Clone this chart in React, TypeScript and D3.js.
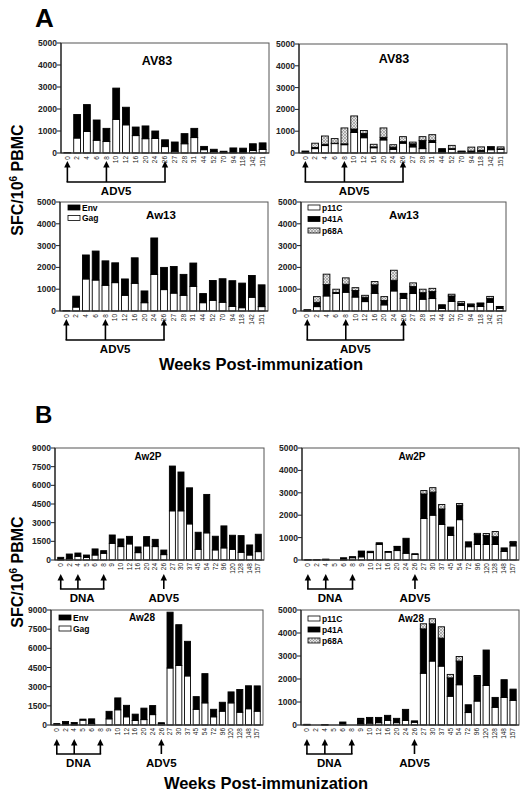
import React from "react";
import * as d3 from "d3";

const weeksA = ["0","2","4","6","8","10","12","16","20","24","26","27","28","31","44","52","70","94","118","142","151"];
const weeksB = ["0","2","4","5","6","8","9","10","12","16","20","24","26","27","30","37","45","54","72","96","120","128","148","157"];

const ticksA = [0, 1000, 2000, 3000, 4000, 5000];
const ticksB9 = [0, 1500, 3000, 4500, 6000, 7500, 9000];

// Panel A – AV83 (Env/Gag)
const av83Gag = [0, 680, 980, 580, 520, 1530, 1280, 790, 650, 660, 290, 80, 420, 700, 150, 60, 30, 20, 20, 110, 160];
const av83Env = [20, 1070, 1220, 920, 600, 1420, 800, 390, 580, 340, 310, 420, 460, 420, 150, 110, 50, 210, 200, 310, 300];
// Panel A – AV83 (peptides)
const av83P11C = [0, 200, 340, 430, 380, 940, 700, 240, 600, 170, 450, 280, 200, 480, 50, 170, 60, 40, 80, 150, 170];
const av83P41A = [90, 50, 60, 20, 40, 160, 200, 40, 120, 100, 70, 140, 380, 100, 150, 30, 10, 50, 40, 130, 20];
const av83P68A = [0, 200, 380, 210, 730, 600, 130, 120, 430, 110, 230, 80, 170, 260, 0, 150, 20, 180, 160, 10, 90];
// Panel A – Aw13 (Env/Gag)
const aw13Gag = [0, 180, 1470, 1420, 1180, 1300, 720, 1270, 380, 1680, 980, 820, 720, 1130, 380, 490, 400, 210, 150, 630, 200];
const aw13Env = [20, 500, 1100, 1330, 1120, 910, 750, 1170, 540, 1670, 1020, 1220, 960, 1070, 420, 910, 1080, 1180, 1130, 1000, 1000];
// Panel A – Aw13 (peptides)
const aw13P11C = [10, 200, 690, 810, 860, 640, 430, 810, 280, 920, 580, 800, 540, 570, 120, 440, 250, 200, 210, 400, 120];
const aw13P41A = [50, 200, 520, 40, 370, 300, 200, 390, 200, 490, 200, 320, 300, 320, 130, 250, 100, 110, 120, 170, 80];
const aw13P68A = [0, 260, 480, 150, 290, 130, 90, 150, 180, 460, 30, 170, 160, 150, 40, 80, 80, 10, 40, 100, 10];
// Panel B – Aw2P (Env/Gag)
const aw2pGag = [30, 100, 300, 200, 400, 540, 1340, 1075, 1290, 590, 1130, 1075, 430, 3950, 3950, 2900, 860, 2180, 810, 970, 860, 620, 400, 670];
const aw2pEnv = [185, 380, 260, 200, 490, 210, 670, 615, 610, 460, 750, 585, 370, 3600, 3120, 2900, 1370, 3090, 1100, 1770, 1130, 1340, 810, 1400];
// Panel B – Aw2P (peptides)
const aw2pP11C = [5, 5, 10, 0, 10, 100, 140, 330, 700, 350, 420, 300, 250, 1850, 2000, 1590, 1100, 1800, 590, 690, 690, 690, 380, 630];
const aw2pP41A = [5, 5, 30, 0, 90, 50, 220, 60, 70, 30, 170, 670, 30, 1100, 1030, 690, 370, 640, 220, 450, 400, 350, 160, 150];
const aw2pP68A = [0, 0, 0, 0, 0, 0, 40, 0, 0, 0, 20, 0, 0, 150, 200, 200, 0, 80, 0, 50, 90, 230, 0, 50];
// Panel B – Aw28 (Env/Gag)
const aw28Gag = [0, 50, 20, 380, 130, 0, 480, 1190, 640, 350, 420, 810, 100, 4460, 4660, 3840, 1230, 1730, 640, 1080, 1730, 1000, 1270, 1080];
const aw28Env = [110, 220, 180, 80, 350, 0, 590, 930, 900, 500, 900, 710, 80, 4370, 3190, 2710, 990, 2290, 590, 700, 860, 1780, 1800, 1980];
// Panel B – Aw28 (peptides)
const aw28P11C = [10, 0, 5, 0, 10, 0, 50, 80, 100, 200, 100, 200, 120, 2250, 2780, 2560, 1250, 1750, 540, 1040, 1720, 770, 1200, 1070];
const aw28P41A = [20, 0, 15, 0, 120, 0, 200, 250, 230, 220, 190, 480, 60, 1930, 1620, 1220, 800, 1030, 340, 1080, 1540, 430, 770, 490];
const aw28P68A = [0, 0, 0, 0, 0, 0, 40, 0, 0, 0, 0, 0, 0, 220, 220, 490, 150, 200, 0, 30, 0, 0, 0, 0];

const FONT = "'Liberation Sans', Arial, Helvetica, sans-serif";

type Legend = { x: number; y: number; dy: number; items: { label: string; fill: string }[] };
type PanelCfg = {
  weeks: string[];
  series: number[][];
  fills: string[];
  x0: number; x1: number; yTop: number; y0: number;
  max: number; ticks: number[];
  title: string; titleX: number; titleY: number; titleSize: number;
  legend?: Legend;
  arrows: string[];
  brackets: { from: string; to: string; label: string }[];
  singles: { at: string; label: string }[];
  tipOff: number;
};

function Panel({ p }: { p: PanelCfg }) {
  const x = d3.scaleBand<string>().domain(p.weeks).range([p.x0 + 1, p.x1 - 1]).paddingInner(0.3).paddingOuter(0.2);
  const y = d3.scaleLinear().domain([0, p.max]).range([p.y0, p.yTop]);
  const keys = p.series.map((_, i) => "k" + i);
  const rows = p.weeks.map((w, i) => {
    const o: any = { week: w };
    keys.forEach((k, j) => (o[k] = p.series[j][i]));
    return o;
  });
  const stacked = d3.stack<any>().keys(keys)(rows);
  const bw = x.bandwidth();
  const cx = (w: string) => (x(w) as number) + bw / 2;
  const tipY = p.y0 + p.tipOff;
  const brY = p.y0 + 29;
  const labY = p.y0 + 42;
  return (
    <g>
      {stacked.map((layer, li) => (
        <g key={li}>
          {layer.map((d, i) => {
            const h = y(d[0]) - y(d[1]);
            if (h <= 0.01) return null;
            return (
              <rect key={i} x={x(p.weeks[i])} y={y(d[1])} width={bw} height={h}
                fill={p.fills[li]} stroke="#000" strokeWidth={0.9} />
            );
          })}
        </g>
      ))}
      <rect x={p.x0} y={p.yTop} width={p.x1 - p.x0} height={p.y0 - p.yTop} fill="none" stroke="#555" strokeWidth={1} />
      <line x1={p.x0} x2={p.x0} y1={p.yTop} y2={p.y0} stroke="#222" strokeWidth={1.2} />
      <line x1={p.x0} x2={p.x1} y1={p.y0} y2={p.y0} stroke="#222" strokeWidth={1.2} />
      {p.ticks.map((t) => (
        <g key={t}>
          <line x1={p.x0 - 4} x2={p.x0} y1={y(t)} y2={y(t)} stroke="#222" strokeWidth={1} />
          <text x={p.x0 - 4} y={y(t) + 3} textAnchor="end" fontSize={8.5} fontWeight="bold" fontFamily={FONT} fill="#222">{t}</text>
        </g>
      ))}
      {p.weeks.map((w) => (
        <text key={w} transform={`translate(${cx(w) + 2.2},${p.y0 + 3}) rotate(-90)`} textAnchor="end"
          fontSize={6.5} fontFamily={FONT} fill="#222">{w}</text>
      ))}
      <text x={p.titleX} y={p.titleY} textAnchor="middle" fontSize={p.titleSize} fontWeight="bold" fontFamily={FONT}>{p.title}</text>
      {p.legend && p.legend.items.map((it, i) => (
        <g key={it.label}>
          <rect x={p.legend!.x} y={p.legend!.y + i * p.legend!.dy} width={12} height={5} fill={it.fill} stroke="#000" strokeWidth={0.8} />
          <text x={p.legend!.x + 14} y={p.legend!.y + i * p.legend!.dy + 5.5} fontSize={8.5} fontWeight="bold" fontFamily={FONT}>{it.label}</text>
        </g>
      ))}
      {p.arrows.map((w) => (
        <g key={w}>
          <line x1={cx(w)} x2={cx(w)} y1={tipY + 4} y2={brY} stroke="#000" strokeWidth={1.6} />
          <polygon points={`${cx(w)},${tipY} ${cx(w) - 3.2},${tipY + 6.5} ${cx(w) + 3.2},${tipY + 6.5}`} fill="#000" />
        </g>
      ))}
      {p.brackets.map((b) => (
        <g key={b.label}>
          <line x1={cx(b.from) - 0.8} x2={cx(b.to) + 0.8} y1={brY} y2={brY} stroke="#000" strokeWidth={1.6} />
          <text x={(cx(b.from) + cx(b.to)) / 2} y={labY} textAnchor="middle" fontSize={11.5} fontWeight="bold" fontFamily={FONT}>{b.label}</text>
        </g>
      ))}
      {p.singles.map((s) => (
        <text key={s.label} x={cx(s.at)} y={labY} textAnchor="middle" fontSize={11.5} fontWeight="bold" fontFamily={FONT}>{s.label}</text>
      ))}
    </g>
  );
}

const envGagFills = ["#fff", "#000"];
const pepFills = ["#fff", "#000", "url(#hatch)"];
const envGagLegend = [{ label: "Env", fill: "#000" }, { label: "Gag", fill: "#fff" }];
const pepLegend = [{ label: "p11C", fill: "#fff" }, { label: "p41A", fill: "#000" }, { label: "p68A", fill: "url(#hatch)" }];

const armA = { arrows: ["0", "8", "26"], brackets: [{ from: "0", to: "26", label: "ADV5" }], singles: [] as any[], tipOff: 8 };
const armB = { arrows: ["0", "4", "8", "26"], brackets: [{ from: "0", to: "8", label: "DNA" }], singles: [{ at: "26", label: "ADV5" }], tipOff: 14 };

const panels: PanelCfg[] = [
  { weeks: weeksA, series: [av83Gag, av83Env], fills: envGagFills, x0: 61, x1: 269, yTop: 43, y0: 153, max: 5000, ticks: ticksA,
    title: "AV83", titleX: 157, titleY: 65, titleSize: 12.5, ...armA },
  { weeks: weeksA, series: [av83P11C, av83P41A, av83P68A], fills: pepFills, x0: 299, x1: 507, yTop: 44, y0: 153, max: 5000, ticks: ticksA,
    title: "AV83", titleX: 394, titleY: 63, titleSize: 12.5, ...armA },
  { weeks: weeksA, series: [aw13Gag, aw13Env], fills: envGagFills, x0: 60, x1: 268, yTop: 202, y0: 311, max: 5000, ticks: ticksA,
    title: "Aw13", titleX: 161, titleY: 219, titleSize: 11.5, legend: { x: 68, y: 205, dy: 10.5, items: envGagLegend }, ...armA },
  { weeks: weeksA, series: [aw13P11C, aw13P41A, aw13P68A], fills: pepFills, x0: 301, x1: 506, yTop: 202, y0: 311, max: 5000, ticks: ticksA,
    title: "Aw13", titleX: 404, titleY: 219, titleSize: 11.5, legend: { x: 308, y: 205, dy: 11.5, items: pepLegend }, ...armA },
  { weeks: weeksB, series: [aw2pGag, aw2pEnv], fills: envGagFills, x0: 55, x1: 264, yTop: 448, y0: 560, max: 9000, ticks: ticksB9,
    title: "Aw2P", titleX: 148, titleY: 460, titleSize: 10, ...armB },
  { weeks: weeksB, series: [aw2pP11C, aw2pP41A, aw2pP68A], fills: pepFills, x0: 302, x1: 519, yTop: 448, y0: 560, max: 5000, ticks: ticksA,
    title: "Aw2P", titleX: 412, titleY: 460, titleSize: 10, ...armB },
  { weeks: weeksB, series: [aw28Gag, aw28Env], fills: envGagFills, x0: 51, x1: 263, yTop: 610, y0: 725, max: 9000, ticks: ticksB9,
    title: "Aw28", titleX: 142, titleY: 621, titleSize: 10, legend: { x: 59, y: 615, dy: 11, items: envGagLegend }, ...armB },
  { weeks: weeksB, series: [aw28P11C, aw28P41A, aw28P68A], fills: pepFills, x0: 301, x1: 519, yTop: 610, y0: 725, max: 5000, ticks: ticksA,
    title: "Aw28", titleX: 411, titleY: 622, titleSize: 10, legend: { x: 308, y: 616, dy: 11, items: pepLegend }, ...armB },
];

function YLabel({ cx, cy }: { cx: number; cy: number }) {
  return (
    <text transform={`translate(${cx},${cy}) rotate(-90)`} textAnchor="middle" fontSize={16} fontWeight="bold" fontFamily={FONT}>
      SFC/10<tspan dy={-6} fontSize={10}>6</tspan><tspan dy={6}> PBMC</tspan>
    </text>
  );
}

export default function App() {
  return (
    <svg width={528} height={796} style={{ position: "absolute", left: 0, top: 0, background: "#fff" }}>
      <defs>
        <pattern id="hatch" width={3} height={3} patternUnits="userSpaceOnUse">
          <rect width={3} height={3} fill="#e4e4e4" />
          <path d="M0,0 L3,3 M3,0 L0,3" stroke="#8a8a8a" strokeWidth={0.6} />
        </pattern>
      </defs>
      <rect width={528} height={796} fill="#fff" />
      <text x={35} y={27} fontSize={26} fontWeight="bold" fontFamily={FONT}>A</text>
      <text x={35} y={423} fontSize={24} fontWeight="bold" fontFamily={FONT}>B</text>
      {panels.map((p, i) => <Panel key={i} p={p} />)}
      <YLabel cx={23} cy={180} />
      <YLabel cx={23} cy={572} />
      <text x={261} y={370} textAnchor="middle" fontSize={16.5} fontWeight="bold" fontFamily={FONT}>Weeks Post-immunization</text>
      <text x={266} y={789} textAnchor="middle" fontSize={16.5} fontWeight="bold" fontFamily={FONT}>Weeks Post-immunization</text>
    </svg>
  );
}
